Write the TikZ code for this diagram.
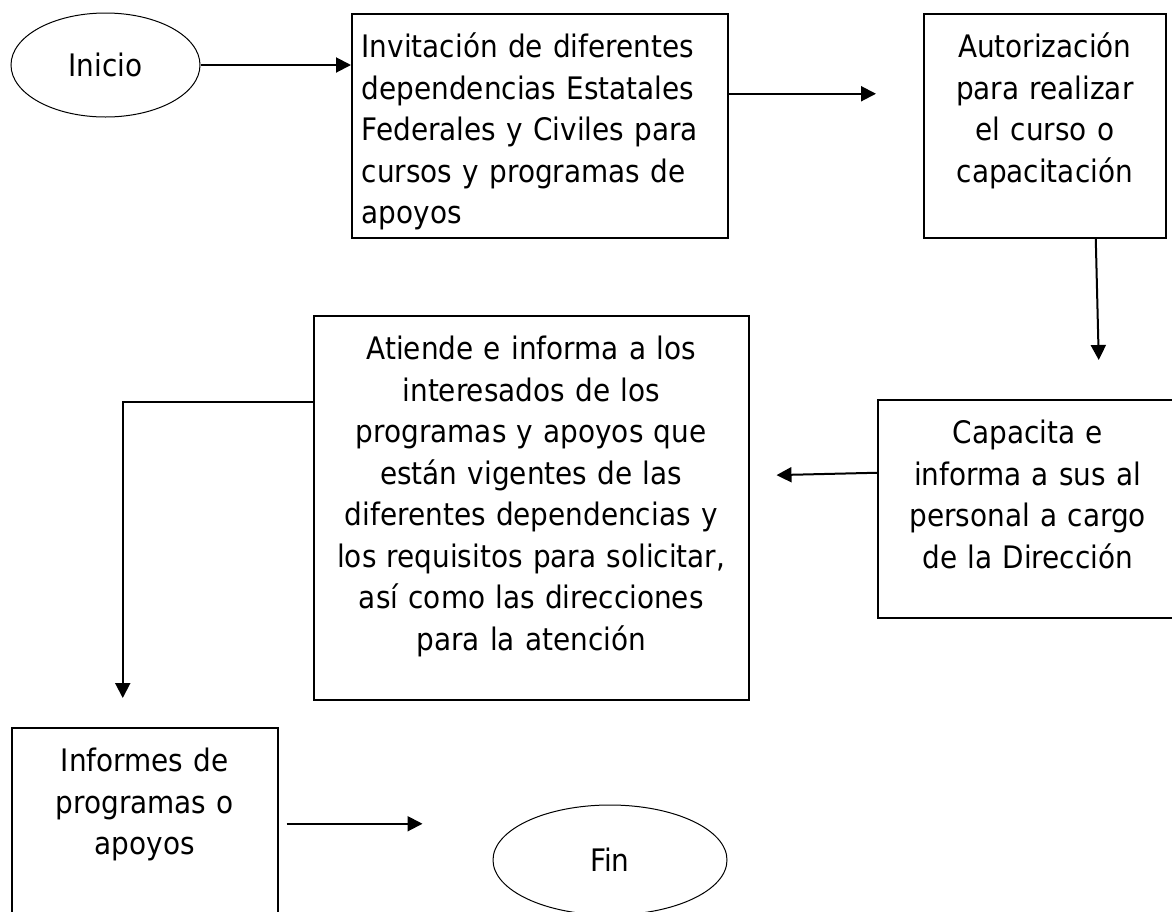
\documentclass[tikz,border=0pt]{standalone}
\usepackage{fontspec}
\setmainfont{DejaVu Sans Condensed}
\usetikzlibrary{shapes.geometric,arrows.meta}

\tikzset{
	box/.style={draw, line width=1.5pt, anchor=north west, inner xsep=10pt, inner ysep=4pt, text height=40pt, align=center},
	term/.style={draw, ellipse, line width=1pt, inner sep=0pt},
	arr/.style={line width=2pt, -{Triangle[length=15pt,width=15pt]}}
}

\begin{document}
\begin{tikzpicture}[x=1pt, y=-1pt, every node/.style={font=\fontsize{31}{41.5}\selectfont}]
	\useasboundingbox (0,0) rectangle (1172,911);
	\node[term, minimum width=189pt, minimum height=104pt] (ini) at (105.5,65) {Inicio};
	\node[box, text width=356pt, text depth=176pt, align=left] (inv) at (351,13) {Invitación de diferentes\\dependencias Estatales\\Federales y Civiles para\\cursos y programas de\\apoyos};
	\node[box, text width=222pt, text depth=176pt] (aut) at (923,13) {Autorización\\para realizar\\el curso o\\capacitación};
	\node[box, text width=280pt, text depth=170pt] (cap) at (877,399) {Capacita e\\informa a sus al\\personal a cargo\\de la Dirección};
	\node[box, text width=415pt, text depth=336pt] (ati) at (313,315) {Atiende e informa a los\\interesados de los\\programas y apoyos que\\están vigentes de las\\diferentes dependencias y\\los requisitos para solicitar,\\así como las direcciones\\para la atención};
	\node[box, text width=246pt, text depth=182pt] (infm) at (11,727) {Informes de\\programas o\\apoyos};
	\node[term, minimum width=234pt, minimum height=110pt] (fin) at (610,860) {Fin};

	\draw[arr] (ini.east) -- (ini.east -| inv.west);
	\draw[arr, shorten >=47pt] ([yshift=32pt]inv.east) -- ([yshift=32pt]inv.east -| aut.west);
	\draw[arr] ([xshift=51pt]aut.south) -- ([xshift=71pt,yshift=39pt]cap.north);
	\draw[arr, shorten >=27pt] ([yshift=36pt]cap.west) -- ([yshift=33pt]cap.west -| ati.east);
	\draw[arr] ([yshift=106pt]ati.west) -| ([xshift=-22pt,yshift=29pt]infm.north);
	\draw[arr, shorten <=8pt, shorten >=70pt] ([yshift=19pt]infm.east) -- ([yshift=19pt]infm.east -| fin.west);
\end{tikzpicture}
\end{document}
